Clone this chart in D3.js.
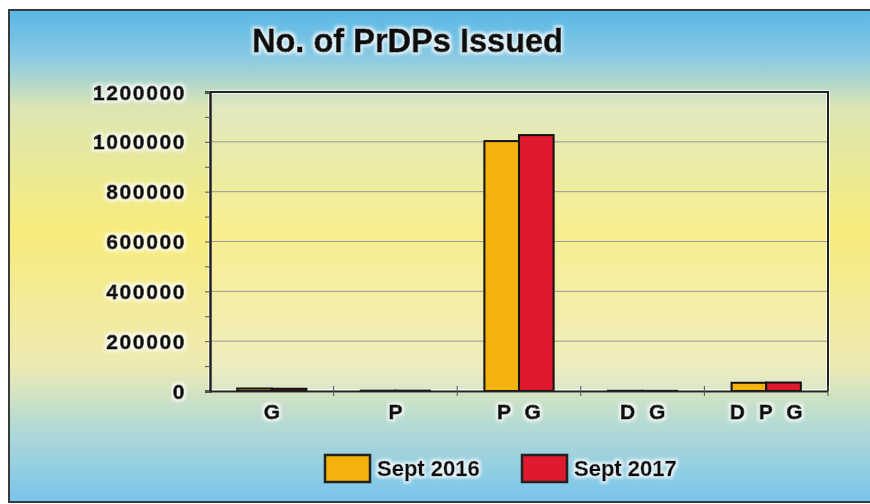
<!DOCTYPE html>
<html>
<head>
<meta charset="utf-8">
<script src="https://cdn.jsdelivr.net/npm/d3@7"></script>
<style>
body{margin:0;background:#fff;}
svg{display:block;font-family:"Liberation Sans",Arial,sans-serif;}
</style>
</head>
<body>
<div id="chart"></div>
<script>
// dane
var categories = ["G", "P", "P G", "D G", "D P G"];
var seriesNames = ["Sept 2016", "Sept 2017"];
var sept2016 = [10000, 1500, 1003000, 1000, 33000];
var sept2017 = [9000, 1500, 1027000, 800, 34000];
var yTicks = [0, 200000, 400000, 600000, 800000, 1000000, 1200000];
var colors = ["#f4b20c", "#df1a2e"];

var W = 870, H = 504;
// uwaga: "top" jest zajete przez window.top
var plotL = 210, plotR = 828, plotT = 92, plotB = 391;

var svg = d3.select("#chart").append("svg")
	.attr("width", W)
	.attr("height", H);

var defs = svg.append("defs");
var grad = defs.append("linearGradient")
	.attr("id", "bg")
	.attr("x1", 0).attr("y1", 0).attr("x2", 0).attr("y2", 1);
[[0.0, "#58b6e6"], [0.1, "#8ccbe2"], [0.2, "#dde6b2"], [0.45, "#f7ec7c"],
 [0.72, "#eeeab2"], [0.84, "#b6dbd4"], [1.0, "#78c4ec"]].forEach(function(s){
	grad.append("stop").attr("offset", s[0]).attr("stop-color", s[1]);
});

var glow = defs.append("filter").attr("id", "glow")
	.attr("x", "-10%").attr("y", "-30%").attr("width", "120%").attr("height", "160%");
glow.append("feMorphology").attr("in", "SourceAlpha").attr("operator", "dilate").attr("radius", 2).attr("result", "d");
glow.append("feGaussianBlur").attr("in", "d").attr("stdDeviation", 1.5).attr("result", "b");
glow.append("feFlood").attr("flood-color", "#ffffff").attr("flood-opacity", 0.75);
glow.append("feComposite").attr("in2", "b").attr("operator", "in").attr("result", "g");
var mg = glow.append("feMerge");
mg.append("feMergeNode").attr("in", "g");
mg.append("feMergeNode").attr("in", "SourceGraphic");

// tlo
svg.append("rect")
	.attr("x", 9).attr("y", 10).attr("width", W).attr("height", H - 12)
	.attr("fill", "url(#bg)")
	.attr("stroke", "#3a3a3a").attr("stroke-width", 2);

// obszar wykresu
svg.append("rect")
	.attr("x", plotL).attr("y", plotT).attr("width", plotR - plotL).attr("height", plotB - plotT)
	.attr("fill", "#ffffff").attr("fill-opacity", 0.15)
	.attr("stroke", "#ffffff").attr("stroke-opacity", 0.7).attr("stroke-width", 4);

var y = d3.scaleLinear().domain([0, 1200000]).range([plotB, plotT]);
var x = d3.scaleBand().domain(categories).range([plotL, plotR])
	.paddingInner(0.44).paddingOuter(0.22);
var xs = d3.scaleBand().domain(seriesNames).range([0, x.bandwidth()]);

// linie siatki
svg.append("g").selectAll("line")
	.data(yTicks.slice(1, -1))
	.enter().append("line")
	.attr("x1", plotL).attr("x2", plotR)
	.attr("y1", d => y(d)).attr("y2", d => y(d))
	.attr("stroke", "#9a9a9a").attr("stroke-width", 1);

// ramka gora/prawo
svg.append("path")
	.attr("d", "M" + plotL + "," + plotT + "H" + plotR + "V" + plotB)
	.attr("fill", "none").attr("stroke", "#222").attr("stroke-width", 2);

// os Y
var yAxis = d3.axisLeft(y).tickValues(d3.range(0, 1200001, 100000)).tickSize(5).tickFormat("");
var gy = svg.append("g").attr("transform", "translate(" + plotL + ",0)").call(yAxis);
gy.select(".domain").attr("stroke", "#222").attr("stroke-width", 2.5);
gy.selectAll(".tick line").attr("stroke", "#555");

svg.append("g").selectAll("text")
	.data(yTicks)
	.enter().append("text")
	.attr("x", 186)
	.attr("y", d => y(d))
	.attr("dy", "0.36em")
	.attr("text-anchor", "end")
	.attr("font-size", "21px")
	.attr("font-weight", "bold")
	.attr("letter-spacing", "1.6px")
	.attr("fill", "#111")
	.attr("stroke", "#111").attr("stroke-width", 0.8)
	.attr("filter", "url(#glow)")
	.text(d => d);

// slupki
var groups = svg.append("g").selectAll("g")
	.data(categories)
	.enter().append("g")
	.attr("transform", d => "translate(" + x(d) + ",0)");

groups.selectAll("rect")
	.data((d, i) => [{s: seriesNames[0], v: sept2016[i]}, {s: seriesNames[1], v: sept2017[i]}])
	.enter().append("rect")
	.attr("x", d => xs(d.s))
	.attr("y", d => y(d.v))
	.attr("width", xs.bandwidth())
	.attr("height", d => plotB - y(d.v))
	.attr("fill", (d, i) => colors[i])
	.attr("stroke", "#111")
	.attr("stroke-width", 2);

// os X
var xAxis = d3.axisBottom(x).tickSize(0).tickFormat("");
var gx = svg.append("g").attr("transform", "translate(0," + plotB + ")").call(xAxis);
gx.select(".domain").attr("stroke", "#222").attr("stroke-width", 2);
gx.append("g").selectAll("line")
	.data(categories)
	.enter().append("line")
	.attr("x1", (d, i) => plotL + x.step() * (i + 1))
	.attr("x2", (d, i) => plotL + x.step() * (i + 1))
	.attr("y1", -5).attr("y2", 5)
	.attr("stroke", "#555");

svg.append("g").selectAll("text")
	.data(categories)
	.enter().append("text")
	.attr("x", d => x(d) + x.bandwidth() / 2 + 2)
	.attr("y", 419)
	.attr("text-anchor", "middle")
	.attr("font-size", "21px")
	.attr("font-weight", "bold")
	.attr("letter-spacing", "4px")
	.attr("fill", "#111")
	.attr("stroke", "#111").attr("stroke-width", 0.8)
	.attr("filter", "url(#glow)")
	.style("white-space", "pre")
	.text(d => d);

// tytul
svg.append("text")
	.attr("x", 252).attr("y", 52)
	.attr("font-size", "33px")
	.attr("font-weight", "bold")
	.attr("fill", "#111")
	.attr("stroke", "#111").attr("stroke-width", 0.8)
	.attr("textLength", 311)
	.attr("lengthAdjust", "spacingAndGlyphs")
	.attr("filter", "url(#glow)")
	.text("No. of PrDPs Issued");

// legenda
var legX = [325, 522];
var leg = svg.append("g").selectAll("g")
	.data(seriesNames)
	.enter().append("g")
	.attr("transform", (d, i) => "translate(" + legX[i] + ",455)");
leg.append("rect")
	.attr("width", 45).attr("height", 27)
	.attr("fill", (d, i) => colors[i])
	.attr("stroke", "#222").attr("stroke-width", 2.5);
leg.append("text")
	.attr("x", 52).attr("y", 21)
	.attr("font-size", "22px")
	.attr("font-weight", "bold")
	.attr("fill", "#111")
	.attr("stroke", "#111").attr("stroke-width", 0.4)
	.attr("filter", "url(#glow)")
	.text(d => d);
</script>
</body>
</html>
